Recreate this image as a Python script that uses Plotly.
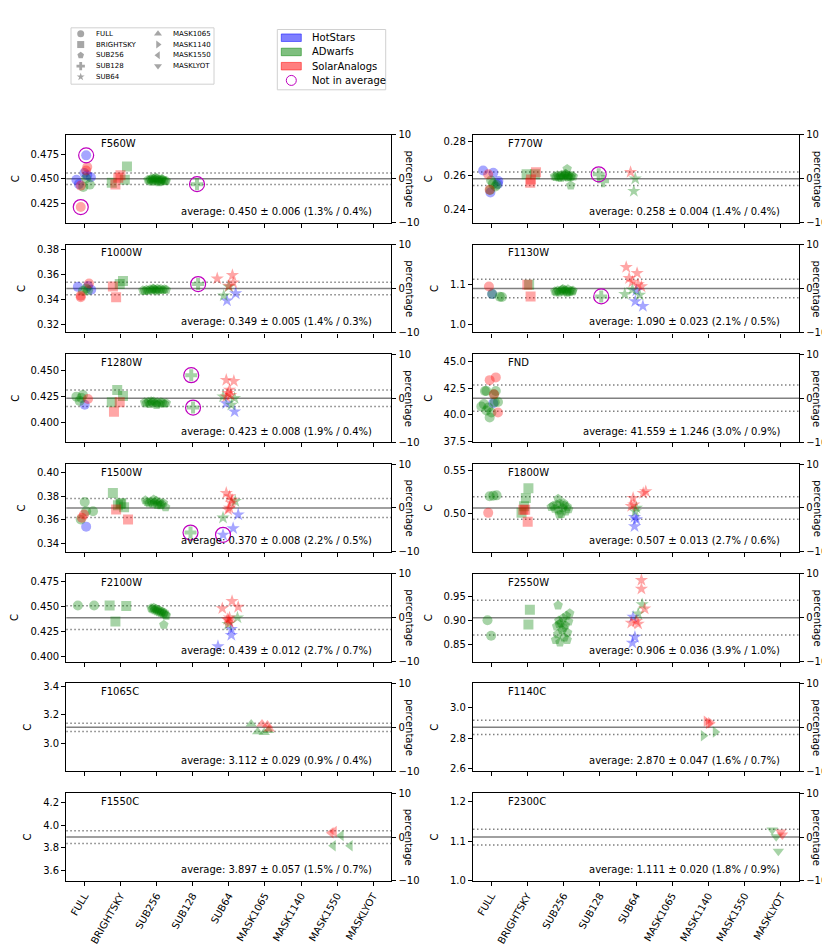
import plotly.graph_objects as go

W, H = 830, 949

CATEGORIES = ["FULL", "BRIGHTSKY", "SUB256", "SUB128", "SUB64",
              "MASK1065", "MASK1140", "MASK1550", "MASKLYOT"]
CAT_SYMBOLS = ["circle", "square", "pentagon", "cross", "star",
               "triangle-up", "triangle-right", "triangle-left", "triangle-down"]
GROUP_NAMES = ["HotStars", "ADwarfs", "SolarAnalogs"]
GROUP_CODES = ["H", "A", "S"]
GROUP_COLORS = ["rgba(0,0,255,0.5)", "rgba(0,128,0,0.5)", "rgba(255,0,0,0.5)"]
EXCL_COLOR = "#bf00bf"

FILTERS = ["F560W", "F770W", "F1000W", "F1130W", "F1280W", "FND", "F1500W",
           "F1800W", "F2100W", "F2550W", "F1065C", "F1140C", "F1550C", "F2300C"]
MEANS = [0.450, 0.258, 0.349, 1.090, 0.423, 41.559, 0.370,
         0.507, 0.439, 0.906, 3.112, 2.870, 3.897, 1.111]
STDS = [0.006, 0.004, 0.005, 0.023, 0.008, 1.246, 0.008,
        0.013, 0.012, 0.036, 0.029, 0.047, 0.057, 0.020]
PCT_SCATTER = [1.3, 1.4, 1.4, 2.1, 1.9, 3.0, 2.2, 2.7, 2.7, 3.9, 0.9, 1.6, 1.5, 1.8]
PCT_ERR = [0.4, 0.4, 0.3, 0.5, 0.4, 0.9, 0.5, 0.6, 0.7, 1.0, 0.4, 0.7, 0.7, 0.9]
YTICKS = [
    ["0.425", "0.450", "0.475"],
    ["0.24", "0.26", "0.28"],
    ["0.32", "0.34", "0.36", "0.38"],
    ["1.0", "1.1"],
    ["0.400", "0.425", "0.450"],
    ["37.5", "40.0", "42.5", "45.0"],
    ["0.34", "0.36", "0.38", "0.40"],
    ["0.50", "0.55"],
    ["0.400", "0.425", "0.450", "0.475"],
    ["0.85", "0.90", "0.95"],
    ["3.0", "3.2", "3.4"],
    ["2.6", "2.8", "3.0"],
    ["3.6", "3.8", "4.0", "4.2"],
    ["1.0", "1.1", "1.2"],
]
PCT_TICKS = [-10, 0, 10]

# (category, jitter offset, value, group, excluded from average)
F560W = [
    ("FULL", -0.22, 0.4490, "H", 0), ("FULL", 0.18, 0.4515, "H", 0), ("FULL", 0.00, 0.4560, "H", 0),
    ("FULL", 0.08, 0.4535, "H", 0), ("FULL", -0.15, 0.4445, "H", 0), ("FULL", 0.05, 0.4740, "H", 1),
    ("FULL", 0.08, 0.4620, "S", 0), ("FULL", 0.05, 0.4585, "S", 0), ("FULL", -0.10, 0.4430, "S", 0),
    ("FULL", -0.10, 0.4210, "S", 1),
    ("FULL", -0.03, 0.4415, "A", 0), ("FULL", 0.15, 0.4440, "A", 0), ("FULL", 0.05, 0.4505, "A", 0),
    ("BRIGHTSKY", -0.24, 0.4460, "A", 0), ("BRIGHTSKY", -0.14, 0.4440, "S", 0),
    ("BRIGHTSKY", -0.06, 0.4510, "S", 0), ("BRIGHTSKY", 0.00, 0.4535, "S", 0),
    ("BRIGHTSKY", 0.12, 0.4490, "A", 0), ("BRIGHTSKY", 0.18, 0.4625, "A", 0),
    ("SUB256", -0.24, 0.4490, "A", 0), ("SUB256", -0.20, 0.4480, "A", 0), ("SUB256", -0.17, 0.4495, "A", 0),
    ("SUB256", -0.14, 0.4470, "A", 0), ("SUB256", -0.11, 0.4485, "A", 0), ("SUB256", -0.08, 0.4500, "A", 0),
    ("SUB256", -0.05, 0.4475, "A", 0), ("SUB256", -0.02, 0.4490, "A", 0), ("SUB256", 0.01, 0.4505, "A", 0),
    ("SUB256", 0.04, 0.4480, "A", 0), ("SUB256", 0.07, 0.4495, "A", 0), ("SUB256", 0.10, 0.4470, "A", 0),
    ("SUB256", 0.13, 0.4485, "A", 0), ("SUB256", 0.16, 0.4490, "A", 0), ("SUB256", 0.20, 0.4480, "A", 0),
    ("SUB256", 0.24, 0.4475, "A", 0), ("SUB256", -0.12, 0.4505, "A", 0), ("SUB256", -0.03, 0.4510, "A", 0),
    ("SUB256", 0.06, 0.4465, "A", 0), ("SUB256", 0.15, 0.4500, "A", 0), ("SUB256", 0.27, 0.4480, "A", 0),
    ("SUB128", 0.12, 0.4445, "A", 1),
]
F770W = [
    ("FULL", -0.22, 0.2629, "H", 0), ("FULL", 0.06, 0.2615, "H", 0), ("FULL", 0.20, 0.2567, "H", 0),
    ("FULL", 0.19, 0.2550, "H", 0), ("FULL", -0.02, 0.2499, "H", 0),
    ("FULL", -0.08, 0.2606, "S", 0), ("FULL", -0.04, 0.2516, "S", 0),
    ("FULL", -0.03, 0.2514, "A", 0), ("FULL", 0.05, 0.2550, "A", 0), ("FULL", 0.12, 0.2535, "A", 0),
    ("FULL", 0.00, 0.2570, "A", 0), ("FULL", 0.15, 0.2545, "A", 0),
    ("BRIGHTSKY", -0.02, 0.2606, "A", 0), ("BRIGHTSKY", 0.10, 0.2576, "S", 0),
    ("BRIGHTSKY", 0.08, 0.2556, "S", 0), ("BRIGHTSKY", 0.24, 0.2619, "S", 0),
    ("BRIGHTSKY", 0.21, 0.2607, "A", 0),
    ("SUB256", -0.25, 0.2595, "A", 0), ("SUB256", -0.21, 0.2590, "A", 0), ("SUB256", -0.17, 0.2600, "A", 0),
    ("SUB256", -0.13, 0.2588, "A", 0), ("SUB256", -0.09, 0.2597, "A", 0), ("SUB256", -0.05, 0.2603, "A", 0),
    ("SUB256", -0.01, 0.2592, "A", 0), ("SUB256", 0.03, 0.2600, "A", 0), ("SUB256", 0.07, 0.2606, "A", 0),
    ("SUB256", 0.11, 0.2594, "A", 0), ("SUB256", 0.15, 0.2599, "A", 0), ("SUB256", 0.19, 0.2590, "A", 0),
    ("SUB256", 0.23, 0.2597, "A", 0), ("SUB256", 0.27, 0.2593, "A", 0), ("SUB256", -0.07, 0.2586, "A", 0),
    ("SUB256", 0.05, 0.2609, "A", 0), ("SUB256", 0.13, 0.2588, "A", 0),
    ("SUB256", 0.10, 0.2638, "A", 0), ("SUB256", 0.20, 0.2541, "A", 0),
    ("SUB128", -0.03, 0.2606, "A", 1), ("SUB128", 0.09, 0.2565, "A", 0),
    ("SUB64", -0.15, 0.2619, "S", 0), ("SUB64", -0.02, 0.2580, "A", 0), ("SUB64", -0.06, 0.2507, "A", 0),
]
F1000W = [
    ("FULL", -0.18, 0.3503, "H", 0), ("FULL", 0.19, 0.3480, "H", 0), ("FULL", 0.10, 0.3510, "H", 0),
    ("FULL", 0.13, 0.3530, "S", 0), ("FULL", -0.10, 0.3433, "S", 0), ("FULL", -0.10, 0.3420, "S", 0),
    ("FULL", -0.04, 0.3470, "A", 0), ("FULL", 0.05, 0.3490, "A", 0), ("FULL", 0.10, 0.3475, "A", 0),
    ("BRIGHTSKY", -0.21, 0.3506, "S", 0), ("BRIGHTSKY", -0.12, 0.3420, "S", 0),
    ("BRIGHTSKY", -0.02, 0.3525, "A", 0), ("BRIGHTSKY", 0.07, 0.3550, "A", 0),
    ("SUB256", -0.38, 0.3475, "A", 0), ("SUB256", -0.33, 0.3470, "A", 0), ("SUB256", -0.28, 0.3480, "A", 0),
    ("SUB256", -0.23, 0.3472, "A", 0), ("SUB256", -0.18, 0.3483, "A", 0), ("SUB256", -0.13, 0.3476, "A", 0),
    ("SUB256", -0.08, 0.3486, "A", 0), ("SUB256", -0.03, 0.3479, "A", 0), ("SUB256", 0.02, 0.3488, "A", 0),
    ("SUB256", 0.07, 0.3481, "A", 0), ("SUB256", 0.12, 0.3485, "A", 0), ("SUB256", 0.17, 0.3478, "A", 0),
    ("SUB256", 0.22, 0.3484, "A", 0), ("SUB256", 0.27, 0.3480, "A", 0), ("SUB256", 0.00, 0.3468, "A", 0),
    ("SUB256", -0.10, 0.3490, "A", 0),
    ("SUB128", 0.15, 0.3525, "A", 1),
    ("SUB64", -0.32, 0.3569, "S", 0), ("SUB64", 0.10, 0.3595, "S", 0), ("SUB64", 0.12, 0.3537, "S", 0),
    ("SUB64", 0.00, 0.3510, "S", 0), ("SUB64", 0.00, 0.3505, "A", 0), ("SUB64", -0.14, 0.3433, "A", 0),
    ("SUB64", -0.05, 0.3393, "H", 0), ("SUB64", 0.19, 0.3450, "H", 0),
]
F1130W = [
    ("FULL", -0.06, 1.0950, "S", 0), ("FULL", 0.03, 1.0762, "H", 0), ("FULL", 0.03, 1.0762, "A", 0),
    ("FULL", 0.24, 1.0696, "A", 0), ("FULL", 0.30, 1.0690, "A", 0),
    ("BRIGHTSKY", 0.00, 1.0990, "S", 0), ("BRIGHTSKY", 0.05, 1.0990, "A", 0),
    ("BRIGHTSKY", 0.09, 1.0704, "S", 0),
    ("SUB256", -0.24, 1.0830, "A", 0), ("SUB256", -0.20, 1.0810, "A", 0), ("SUB256", -0.16, 1.0850, "A", 0),
    ("SUB256", -0.12, 1.0800, "A", 0), ("SUB256", -0.08, 1.0840, "A", 0), ("SUB256", -0.04, 1.0870, "A", 0),
    ("SUB256", 0.00, 1.0820, "A", 0), ("SUB256", 0.04, 1.0860, "A", 0), ("SUB256", 0.08, 1.0835, "A", 0),
    ("SUB256", 0.12, 1.0880, "A", 0), ("SUB256", 0.16, 1.0815, "A", 0), ("SUB256", 0.20, 1.0845, "A", 0),
    ("SUB256", 0.24, 1.0825, "A", 0), ("SUB256", 0.26, 1.0850, "A", 0), ("SUB256", -0.02, 1.0890, "A", 0),
    ("SUB256", 0.10, 1.0795, "A", 0),
    ("SUB128", 0.04, 1.0704, "A", 1),
    ("SUB64", -0.27, 1.1430, "S", 0), ("SUB64", 0.03, 1.1280, "S", 0), ("SUB64", -0.19, 1.1155, "S", 0),
    ("SUB64", -0.10, 1.1065, "S", 0), ("SUB64", 0.06, 1.1000, "S", 0), ("SUB64", 0.15, 1.0950, "S", 0),
    ("SUB64", -0.31, 1.0760, "A", 0), ("SUB64", -0.10, 1.0870, "A", 0), ("SUB64", 0.10, 1.0740, "A", 0),
    ("SUB64", 0.01, 1.0845, "H", 0), ("SUB64", -0.02, 1.0580, "H", 0), ("SUB64", 0.19, 1.0460, "H", 0),
]
F1280W = [
    ("FULL", -0.22, 0.4245, "A", 0), ("FULL", -0.04, 0.4260, "A", 0), ("FULL", -0.13, 0.4204, "A", 0),
    ("FULL", -0.08, 0.4233, "A", 0), ("FULL", 0.10, 0.4223, "S", 0), ("FULL", 0.01, 0.4166, "H", 0),
    ("BRIGHTSKY", -0.09, 0.4310, "A", 0), ("BRIGHTSKY", 0.07, 0.4252, "A", 0),
    ("BRIGHTSKY", -0.24, 0.4190, "A", 0), ("BRIGHTSKY", -0.02, 0.4190, "S", 0),
    ("BRIGHTSKY", -0.18, 0.4100, "S", 0),
    ("SUB256", -0.33, 0.4190, "A", 0), ("SUB256", -0.28, 0.4180, "A", 0), ("SUB256", -0.23, 0.4195, "A", 0),
    ("SUB256", -0.18, 0.4175, "A", 0), ("SUB256", -0.13, 0.4188, "A", 0), ("SUB256", -0.08, 0.4198, "A", 0),
    ("SUB256", -0.03, 0.4182, "A", 0), ("SUB256", 0.02, 0.4192, "A", 0), ("SUB256", 0.07, 0.4178, "A", 0),
    ("SUB256", 0.12, 0.4190, "A", 0), ("SUB256", 0.17, 0.4185, "A", 0), ("SUB256", 0.22, 0.4176, "A", 0),
    ("SUB256", 0.27, 0.4183, "A", 0), ("SUB256", 0.00, 0.4165, "A", 0), ("SUB256", -0.15, 0.4200, "A", 0),
    ("SUB128", -0.04, 0.4452, "A", 1), ("SUB128", 0.01, 0.4140, "A", 1),
    ("SUB64", -0.07, 0.4405, "S", 0), ("SUB64", 0.14, 0.4395, "S", 0), ("SUB64", 0.02, 0.4310, "S", 0),
    ("SUB64", -0.02, 0.4278, "S", 0), ("SUB64", 0.05, 0.4260, "S", 0), ("SUB64", -0.07, 0.4245, "S", 0),
    ("SUB64", -0.16, 0.4245, "A", 0), ("SUB64", 0.16, 0.4230, "A", 0), ("SUB64", 0.07, 0.4166, "A", 0),
    ("SUB64", -0.07, 0.4180, "H", 0), ("SUB64", 0.16, 0.4100, "H", 0),
]
FND = [
    ("FULL", -0.04, 43.27, "S", 0), ("FULL", 0.13, 43.53, "S", 0), ("FULL", -0.17, 42.24, "A", 0),
    ("FULL", -0.13, 42.24, "A", 0), ("FULL", 0.13, 42.24, "A", 0), ("FULL", 0.08, 41.93, "S", 0),
    ("FULL", 0.08, 41.93, "A", 0), ("FULL", -0.27, 40.77, "A", 0), ("FULL", -0.08, 40.68, "A", 0),
    ("FULL", 0.10, 41.18, "A", 0), ("FULL", 0.19, 41.20, "A", 0), ("FULL", 0.06, 41.09, "H", 0),
    ("FULL", 0.19, 40.21, "S", 0), ("FULL", -0.04, 39.74, "A", 0), ("FULL", -0.13, 40.40, "A", 0),
    ("FULL", 0.01, 40.20, "A", 0), ("FULL", -0.20, 41.00, "A", 0),
]
F1500W = [
    ("FULL", 0.01, 0.3750, "A", 0), ("FULL", 0.05, 0.3672, "A", 0), ("FULL", 0.24, 0.3672, "A", 0),
    ("FULL", -0.01, 0.3644, "S", 0), ("FULL", -0.07, 0.3617, "S", 0), ("FULL", -0.10, 0.3603, "A", 0),
    ("FULL", 0.05, 0.3542, "H", 0),
    ("BRIGHTSKY", -0.21, 0.3825, "A", 0), ("BRIGHTSKY", -0.07, 0.3722, "A", 0),
    ("BRIGHTSKY", 0.02, 0.3742, "A", 0), ("BRIGHTSKY", 0.10, 0.3706, "A", 0),
    ("BRIGHTSKY", 0.00, 0.3733, "A", 0), ("BRIGHTSKY", -0.12, 0.3686, "S", 0),
    ("BRIGHTSKY", 0.21, 0.3603, "S", 0),
    ("SUB256", -0.31, 0.3765, "A", 0), ("SUB256", -0.26, 0.3750, "A", 0), ("SUB256", -0.21, 0.3740, "A", 0),
    ("SUB256", -0.16, 0.3755, "A", 0), ("SUB256", -0.11, 0.3735, "A", 0), ("SUB256", -0.06, 0.3745, "A", 0),
    ("SUB256", -0.01, 0.3760, "A", 0), ("SUB256", 0.04, 0.3738, "A", 0), ("SUB256", 0.09, 0.3748, "A", 0),
    ("SUB256", 0.14, 0.3730, "A", 0), ("SUB256", 0.19, 0.3742, "A", 0), ("SUB256", 0.25, 0.3705, "A", 0),
    ("SUB256", 0.02, 0.3725, "A", 0), ("SUB256", -0.08, 0.3770, "A", 0), ("SUB256", 0.11, 0.3722, "A", 0),
    ("SUB128", -0.06, 0.3492, "A", 1),
    ("SUB64", -0.07, 0.3825, "S", 0), ("SUB64", 0.02, 0.3797, "S", 0), ("SUB64", 0.07, 0.3742, "S", 0),
    ("SUB64", 0.02, 0.3700, "S", 0), ("SUB64", -0.02, 0.3686, "S", 0), ("SUB64", 0.09, 0.3767, "S", 0),
    ("SUB64", -0.16, 0.3617, "A", 0), ("SUB64", 0.18, 0.3756, "A", 0),
    ("SUB64", 0.26, 0.3644, "H", 0), ("SUB64", -0.16, 0.3473, "H", 1), ("SUB64", 0.12, 0.3528, "H", 0),
]
F1800W = [
    ("FULL", -0.04, 0.5204, "A", 0), ("FULL", 0.06, 0.5210, "A", 0), ("FULL", 0.15, 0.5215, "A", 0),
    ("FULL", -0.08, 0.5013, "S", 0),
    ("BRIGHTSKY", 0.03, 0.5298, "A", 0), ("BRIGHTSKY", -0.04, 0.5184, "A", 0),
    ("BRIGHTSKY", -0.09, 0.5090, "A", 0), ("BRIGHTSKY", -0.11, 0.5050, "S", 0),
    ("BRIGHTSKY", -0.06, 0.5050, "S", 0), ("BRIGHTSKY", -0.16, 0.5013, "A", 0),
    ("BRIGHTSKY", 0.01, 0.4910, "S", 0),
    ("SUB256", -0.15, 0.5176, "A", 0), ("SUB256", -0.34, 0.5080, "A", 0), ("SUB256", -0.29, 0.5095, "A", 0),
    ("SUB256", -0.24, 0.5060, "A", 0), ("SUB256", -0.19, 0.5110, "A", 0), ("SUB256", -0.14, 0.5040, "A", 0),
    ("SUB256", -0.10, 0.5120, "A", 0), ("SUB256", -0.06, 0.5000, "A", 0), ("SUB256", -0.02, 0.5070, "A", 0),
    ("SUB256", 0.02, 0.5100, "A", 0), ("SUB256", 0.06, 0.5030, "A", 0), ("SUB256", 0.10, 0.5085, "A", 0),
    ("SUB256", 0.14, 0.5055, "A", 0), ("SUB256", -0.12, 0.4995, "A", 0), ("SUB256", 0.00, 0.5127, "A", 0),
    ("SUB64", -0.08, 0.5184, "S", 0), ("SUB64", 0.20, 0.5240, "S", 0), ("SUB64", 0.27, 0.5260, "S", 0),
    ("SUB64", -0.13, 0.5090, "S", 0), ("SUB64", -0.06, 0.5108, "S", 0),
    ("SUB64", 0.01, 0.5070, "A", 0), ("SUB64", -0.02, 0.5030, "A", 0),
    ("SUB64", -0.04, 0.4964, "H", 0), ("SUB64", 0.01, 0.4936, "H", 0), ("SUB64", -0.04, 0.4856, "H", 0),
]
F2100W = [
    ("FULL", -0.18, 0.4512, "A", 0), ("FULL", 0.27, 0.4512, "A", 0),
    ("BRIGHTSKY", -0.30, 0.4512, "A", 0), ("BRIGHTSKY", 0.16, 0.4506, "A", 0),
    ("BRIGHTSKY", -0.14, 0.4350, "A", 0),
    ("SUB256", -0.15, 0.4485, "A", 0), ("SUB256", -0.11, 0.4475, "A", 0), ("SUB256", -0.08, 0.4490, "A", 0),
    ("SUB256", -0.05, 0.4465, "A", 0), ("SUB256", -0.02, 0.4478, "A", 0), ("SUB256", 0.01, 0.4455, "A", 0),
    ("SUB256", 0.04, 0.4470, "A", 0), ("SUB256", 0.07, 0.4445, "A", 0), ("SUB256", 0.10, 0.4460, "A", 0),
    ("SUB256", 0.13, 0.4438, "A", 0), ("SUB256", 0.16, 0.4450, "A", 0), ("SUB256", 0.19, 0.4428, "A", 0),
    ("SUB256", 0.22, 0.4440, "A", 0), ("SUB256", 0.25, 0.4420, "A", 0), ("SUB256", 0.27, 0.4410, "A", 0),
    ("SUB256", 0.20, 0.4318, "A", 0),
    ("SUB64", -0.18, 0.4482, "S", 0), ("SUB64", 0.09, 0.4555, "S", 0), ("SUB64", 0.26, 0.4496, "S", 0),
    ("SUB64", -0.04, 0.4373, "S", 0), ("SUB64", 0.02, 0.4390, "S", 0), ("SUB64", 0.00, 0.4360, "S", 0),
    ("SUB64", 0.03, 0.4340, "S", 0),
    ("SUB64", 0.24, 0.4390, "A", 0), ("SUB64", -0.02, 0.4324, "A", 0),
    ("SUB64", 0.07, 0.4274, "H", 0), ("SUB64", 0.07, 0.4215, "H", 0), ("SUB64", -0.30, 0.4103, "H", 0),
]
F2550W = [
    ("FULL", -0.10, 0.9005, "A", 0), ("FULL", 0.00, 0.8687, "A", 0),
    ("BRIGHTSKY", 0.07, 0.9223, "A", 0), ("BRIGHTSKY", 0.03, 0.8917, "A", 0),
    ("SUB256", -0.15, 0.9313, "A", 0), ("SUB256", -0.22, 0.8600, "A", 0), ("SUB256", -0.19, 0.8880, "A", 0),
    ("SUB256", -0.16, 0.8720, "A", 0), ("SUB256", -0.13, 0.9000, "A", 0), ("SUB256", -0.10, 0.8550, "A", 0),
    ("SUB256", -0.07, 0.8950, "A", 0), ("SUB256", -0.04, 0.8800, "A", 0), ("SUB256", -0.01, 0.9050, "A", 0),
    ("SUB256", 0.02, 0.8650, "A", 0), ("SUB256", 0.05, 0.8900, "A", 0), ("SUB256", 0.08, 0.9100, "A", 0),
    ("SUB256", 0.11, 0.8750, "A", 0), ("SUB256", 0.14, 0.8980, "A", 0), ("SUB256", 0.17, 0.9150, "A", 0),
    ("SUB256", 0.00, 0.8850, "A", 0), ("SUB256", -0.12, 0.8930, "A", 0), ("SUB256", 0.10, 0.8600, "A", 0),
    ("SUB64", 0.15, 0.9835, "S", 0), ("SUB64", 0.15, 0.9652, "S", 0), ("SUB64", 0.24, 0.9244, "S", 0),
    ("SUB64", -0.13, 0.8950, "S", 0), ("SUB64", 0.01, 0.8987, "S", 0), ("SUB64", 0.06, 0.8930, "S", 0),
    ("SUB64", 0.17, 0.9333, "A", 0), ("SUB64", 0.06, 0.9140, "A", 0),
    ("SUB64", -0.08, 0.9074, "H", 0), ("SUB64", -0.03, 0.8660, "H", 0), ("SUB64", -0.10, 0.8540, "H", 0),
]
F1065C = [
    ("MASK1065", -0.38, 3.135, "A", 0), ("MASK1065", -0.08, 3.135, "S", 0), ("MASK1065", 0.07, 3.128, "S", 0),
    ("MASK1065", -0.20, 3.080, "A", 0), ("MASK1065", -0.02, 3.075, "A", 0), ("MASK1065", 0.12, 3.100, "S", 0),
    ("MASK1065", 0.10, 3.090, "A", 0),
]
F1140C = [
    ("MASK1140", -0.06, 2.910, "S", 0), ("MASK1140", 0.06, 2.900, "S", 0), ("MASK1140", 0.00, 2.895, "S", 0),
    ("MASK1140", -0.14, 2.815, "A", 0), ("MASK1140", 0.19, 2.840, "A", 0),
]
F1550C = [
    ("MASK1550", -0.17, 3.936, "S", 0), ("MASK1550", -0.08, 3.945, "S", 0),
    ("MASK1550", -0.11, 3.820, "A", 0), ("MASK1550", 0.11, 3.910, "A", 0), ("MASK1550", 0.36, 3.820, "A", 0),
]
F2300C = [
    ("MASKLYOT", -0.24, 1.129, "A", 0), ("MASKLYOT", -0.13, 1.112, "A", 0), ("MASKLYOT", -0.07, 1.075, "A", 0),
    ("MASKLYOT", 0.00, 1.124, "S", 0), ("MASKLYOT", 0.04, 1.116, "S", 0),
]
PANEL_POINTS = [F560W, F770W, F1000W, F1130W, F1280W, FND, F1500W,
                F1800W, F2100W, F2550W, F1065C, F1140C, F1550C, F2300C]

# ---------------- layout geometry (pixels) ----------------
COL_X = [(58.3, 383.3), (465.0, 791.0)]
ROW_TOP0, ROW_PITCH, PANEL_H = 122.3, 111.0, 88.8
FONT = "DejaVu Sans"
SYMBOL_SIZE = {"circle": 10, "square": 10, "pentagon": 10, "cross": 10, "star": 10,
               "triangle-up": 10, "triangle-right": 10, "triangle-left": 10, "triangle-down": 10}


def sfx(n):
    return "" if n == 1 else str(n)


fig = go.Figure()
layout = dict(width=W, height=H, margin=dict(l=0, r=0, t=0, b=0),
              paper_bgcolor="white", plot_bgcolor="white", showlegend=False,
              font=dict(family=FONT, size=10, color="black"))
shapes, annotations = [], []

NP = len(FILTERS)
for i in range(NP):
    n = i + 1
    nr = i + 1 + NP
    r, c = divmod(i, 2)
    x0, x1 = COL_X[c]
    top = ROW_TOP0 + r * ROW_PITCH
    bot = top + PANEL_H
    xd = [x0 / W, x1 / W]
    yd = [1 - bot / H, 1 - top / H]
    m, s = MEANS[i], STDS[i]
    last_row = (r == (NP - 1) // 2)
    layout["xaxis" + sfx(n)] = dict(
        domain=xd, anchor="y" + sfx(n), range=[-0.5, 8.5],
        tickvals=list(range(len(CATEGORIES))),
        ticktext=CATEGORIES, showticklabels=last_row, tickangle=-60,
        ticks="outside", ticklen=4, tickwidth=1, tickcolor="black",
        showline=True, mirror=True, linecolor="black", linewidth=1.3,
        showgrid=False, zeroline=False, tickfont=dict(size=10))
    layout["yaxis" + sfx(n)] = dict(
        domain=yd, anchor="x" + sfx(n), range=[m * 0.9, m * 1.1],
        tickvals=[float(t) for t in YTICKS[i]], ticktext=YTICKS[i],
        ticks="outside", ticklen=4, tickwidth=1, tickcolor="black",
        showline=True, linecolor="black", linewidth=1.3,
        showgrid=False, zeroline=False, tickfont=dict(size=10),
        title=dict(text="C", standoff=9, font=dict(size=10)))
    layout["yaxis" + sfx(nr)] = dict(
        anchor="x" + sfx(n), overlaying="y" + sfx(n), side="right",
        range=[-10, 10], tickvals=PCT_TICKS,
        ticktext=[("−" + str(-t)) if t < 0 else str(t) for t in PCT_TICKS],
        ticks="outside", ticklen=4, tickwidth=1, tickcolor="black",
        showline=True, linecolor="black", linewidth=1.3,
        showgrid=False, zeroline=False, tickfont=dict(size=10))
    # empty trace so that the percentage axis gets drawn
    fig.add_trace(go.Scatter(x=[None], y=[None], mode="markers", hoverinfo="skip",
                             xaxis="x" + sfx(n), yaxis="y" + sfx(nr)))

    # average and +/- std lines
    for val, dash in ((m, "solid"), (m + s, "1.5px,2.5px"), (m - s, "1.5px,2.5px")):
        shapes.append(dict(type="line", xref="x" + sfx(n) + " domain", x0=0, x1=1,
                           yref="y" + sfx(n), y0=val, y1=val, layer="below",
                           line=dict(color="grey", width=1.5, dash=dash)))

    # points
    pts = PANEL_POINTS[i]
    for gcode, gcol in zip(GROUP_CODES, GROUP_COLORS):
        sel = [p for p in pts if p[3] == gcode]
        if not sel:
            continue
        syms = [CAT_SYMBOLS[CATEGORIES.index(p[0])] for p in sel]
        fig.add_trace(go.Scatter(
            x=[CATEGORIES.index(p[0]) + p[1] for p in sel], y=[p[2] for p in sel],
            mode="markers", xaxis="x" + sfx(n), yaxis="y" + sfx(n), hoverinfo="skip",
            marker=dict(symbol=syms, size=[SYMBOL_SIZE[sy] for sy in syms],
                        color=gcol, line=dict(width=0))))
    ex = [p for p in pts if p[4]]
    if ex:
        fig.add_trace(go.Scatter(
            x=[CATEGORIES.index(p[0]) + p[1] for p in ex], y=[p[2] for p in ex],
            mode="markers", xaxis="x" + sfx(n), yaxis="y" + sfx(n), hoverinfo="skip",
            marker=dict(symbol="circle-open", size=15, color=EXCL_COLOR,
                        line=dict(width=1.2, color=EXCL_COLOR))))

    # texts
    annotations.append(dict(text=FILTERS[i], xref="x" + sfx(n) + " domain",
                            yref="y" + sfx(n) + " domain", x=0.1, y=0.99,
                            xanchor="left", yanchor="top", showarrow=False,
                            font=dict(size=10)))
    annotations.append(dict(
        text="average: %.3f ± %.3f (%.1f%% / %.1f%%)" % (m, s, PCT_SCATTER[i], PCT_ERR[i]),
        xref="x" + sfx(n) + " domain", yref="y" + sfx(n) + " domain",
        x=0.947, y=0.125, xanchor="right", yanchor="middle", showarrow=False,
        font=dict(size=10)))
    annotations.append(dict(text="percentage", xref="paper", yref="paper",
                            x=(x1 + 18) / W, y=1 - (top + PANEL_H / 2) / H,
                            xanchor="center", yanchor="middle", textangle=90,
                            showarrow=False, font=dict(size=10)))

# ---------------- legends ----------------
LX, LY = 2 * NP + 1, 2 * NP + 1
LEG_H = 90.0
layout["xaxis" + sfx(LX)] = dict(domain=[0, 1], range=[0, W], visible=False, anchor="y" + sfx(LY))
layout["yaxis" + sfx(LY)] = dict(domain=[1 - LEG_H / H, 1], range=[LEG_H, 0], visible=False,
                                 anchor="x" + sfx(LX))

# marker-shape legend
shapes.append(dict(type="rect", xref="paper", yref="paper", x0=63 / W, x1=206 / W,
                   y0=1 - 71 / H, y1=1 - 14 / H, line=dict(color="#d0d0d0", width=1),
                   fillcolor="white", layer="below"))
mk_x, mk_y, mk_s = [], [], []
for k, (cat, sym) in enumerate(zip(CATEGORIES, CAT_SYMBOLS)):
    col, row = (0, k) if k < 5 else (1, k - 5)
    px = 72.7 if col == 0 else 150.0
    py = 20.0 + row * 10.9
    mk_x.append(px)
    mk_y.append(py)
    mk_s.append(sym)
    annotations.append(dict(text=cat, xref="paper", yref="paper",
                            x=(px + 13.3) / W, y=1 - py / H, xanchor="left",
                            yanchor="middle", showarrow=False, font=dict(size=7)))
fig.add_trace(go.Scatter(x=mk_x, y=mk_y, mode="markers", xaxis="x" + sfx(LX),
                         yaxis="y" + sfx(LY), hoverinfo="skip", cliponaxis=False,
                         marker=dict(symbol=mk_s, size=[7 if s != "star" else 6 for s in mk_s],
                                     color="grey", line=dict(width=0))))

# colour legend
shapes.append(dict(type="rect", xref="paper", yref="paper", x0=269.3 / W, x1=377.7 / W,
                   y0=1 - 76.7 / H, y1=1 - 15.7 / H, line=dict(color="#d0d0d0", width=1),
                   fillcolor="white", layer="below"))
for k, (gname, gcol) in enumerate(zip(GROUP_NAMES, GROUP_COLORS)):
    py = 24.0 + k * 14.4
    shapes.append(dict(type="rect", xref="paper", yref="paper", x0=273.3 / W, x1=293.3 / W,
                       y0=1 - (py + 3.8) / H, y1=1 - (py - 3.8) / H,
                       line=dict(color=gcol, width=1), fillcolor=gcol))
    annotations.append(dict(text=gname, xref="paper", yref="paper", x=301.7 / W,
                            y=1 - py / H, xanchor="left", yanchor="middle",
                            showarrow=False, font=dict(size=10)))
py = 24.0 + 3 * 14.4
fig.add_trace(go.Scatter(x=[283.3], y=[py], mode="markers", xaxis="x" + sfx(LX),
                         yaxis="y" + sfx(LY), hoverinfo="skip", cliponaxis=False,
                         marker=dict(symbol="circle-open", size=10, color=EXCL_COLOR,
                                     line=dict(width=1, color=EXCL_COLOR))))
annotations.append(dict(text="Not in average", xref="paper", yref="paper", x=301.7 / W,
                        y=1 - py / H, xanchor="left", yanchor="middle",
                        showarrow=False, font=dict(size=10)))

layout["shapes"] = shapes
layout["annotations"] = annotations
fig.update_layout(**layout)
fig.write_html("out.html")
